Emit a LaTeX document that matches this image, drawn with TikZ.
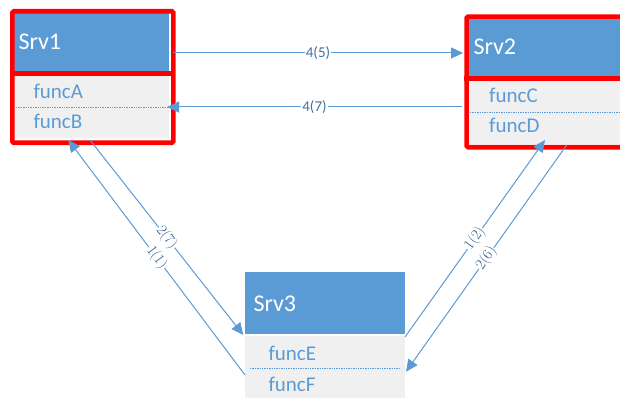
\documentclass[tikz,border=0pt]{standalone}
\usepackage{fontspec}
\newfontfamily\carl{Carlito}
\usetikzlibrary{arrows.meta}
\definecolor{hdblue}{HTML}{5B9BD5}
\definecolor{bodygray}{HTML}{F0F0F0}
\definecolor{lblblue}{HTML}{41719C}
\definecolor{dlblblue}{HTML}{2F5B8A}
\tikzset{
  head/.style={fill=hdblue, draw=none, inner sep=0, anchor=north west},
  body/.style={fill=bodygray, draw=none, inner sep=0, anchor=north west},
  frame/.style={draw=red, line width=4.6pt, rounded corners=1.5pt, inner sep=0, anchor=north west},
  divider/.style={red, line width=5pt},
  title/.style={anchor=base west, inner sep=0, text=white, font=\carl\fontsize{24}{24}\selectfont},
  func/.style={anchor=base west, inner sep=0, text=hdblue, font=\carl\fontsize{21}{21}\selectfont},
  sep/.style={hdblue, line width=0.9pt, dash pattern=on 1.3pt off 1.1pt},
  link/.style={hdblue, line width=1pt, -{Triangle[length=12pt,width=11pt]}},
  hlabel/.style={fill=white, inner sep=1pt, text=lblblue, font=\carl\fontsize{15}{15}\selectfont},
  dlabel/.style={fill=white, inner sep=0.6pt, sloped, text=dlblblue, font=\fontsize{15}{15}\selectfont},
}
\begin{document}
\begin{tikzpicture}[x=1pt, y=-1pt]
\clip (0,0) rectangle (620,398);
\fill[white] (0,0) rectangle (620,398);

% Srv1
\node[head, minimum width=156, minimum height=62] (h1) at (12.3,11.3) {};
\node[body, minimum width=156, minimum height=65] (b1) at (12.3,73.3) {};
\draw[sep] (16,107.3) -- (168,107.3);
\node[frame, minimum width=161, minimum height=131.5] (srv1) at (10,9) {};
\draw[divider] (10,73.3) -- (171,73.3);
\node[title] (t1) at (18.3,49.3) {Srv1};
\node[func] (fa) at (33.3,98.3) {funcA};
\node[func] (fb) at (33.3,128.3) {funcB};

% Srv2
\node[head, minimum width=170, minimum height=62] (h2) at (466.7,16.7) {};
\node[body, minimum width=170, minimum height=65] (b2) at (466.7,78.5) {};
\draw[sep] (470,112) -- (625,112);
\node[frame, minimum width=180, minimum height=130.7] (srv2) at (464.3,14.3) {};
\draw[divider] (464.3,78.5) -- (640,78.5);
\node[title] (t2) at (473.3,54.3) {Srv2};
\node[func] (fc) at (489,102.7) {funcC};
\node[func] (fd) at (489,132.7) {funcD};

% Srv3
\node[head, minimum width=160, minimum height=62.3] (h3) at (245,271.7) {};
\node[body, minimum width=160, minimum height=70] (b3) at (245,336) {};
\draw[sep] (250,368.7) -- (400,368.7);
\node[title] (t3) at (253.3,311.7) {Srv3};
\node[func] (fe) at (268.3,360.7) {funcE};
\node[func] (ff) at (268.3,391) {funcF};

% connector end points on the box borders
\coordinate (a45s) at (173,53);
\coordinate (a45e) at (463,53);
\coordinate (a47s) at (462,107);
\coordinate (a47e) at (167,107);
\coordinate (a11s) at (245,375);
\coordinate (a11e) at (68.3,140);
\coordinate (a27s) at (90,140);
\coordinate (a27e) at (243.3,335);
\coordinate (a12s) at (405,337);
\coordinate (a12e) at (545,140);
\coordinate (a26s) at (566.7,145);
\coordinate (a26e) at (406,371.7);

% calls between the services
\draw[link] (a45s) -- node[hlabel] (l45) {4(5)} (a45e);
\draw[link] (a47s) -- node[hlabel] (l47) {4(7)} (a47e);
\draw[link] (a11s) -- node[dlabel] (l11) {1(1)} (a11e);
\draw[link] (a27s) -- node[dlabel] (l27) {2(7)} (a27e);
\draw[link] (a12s) -- node[dlabel] (l12) {1(2)} (a12e);
\draw[link] (a26s) -- node[dlabel] (l26) {2(6)} (a26e);
\end{tikzpicture}
\end{document}
